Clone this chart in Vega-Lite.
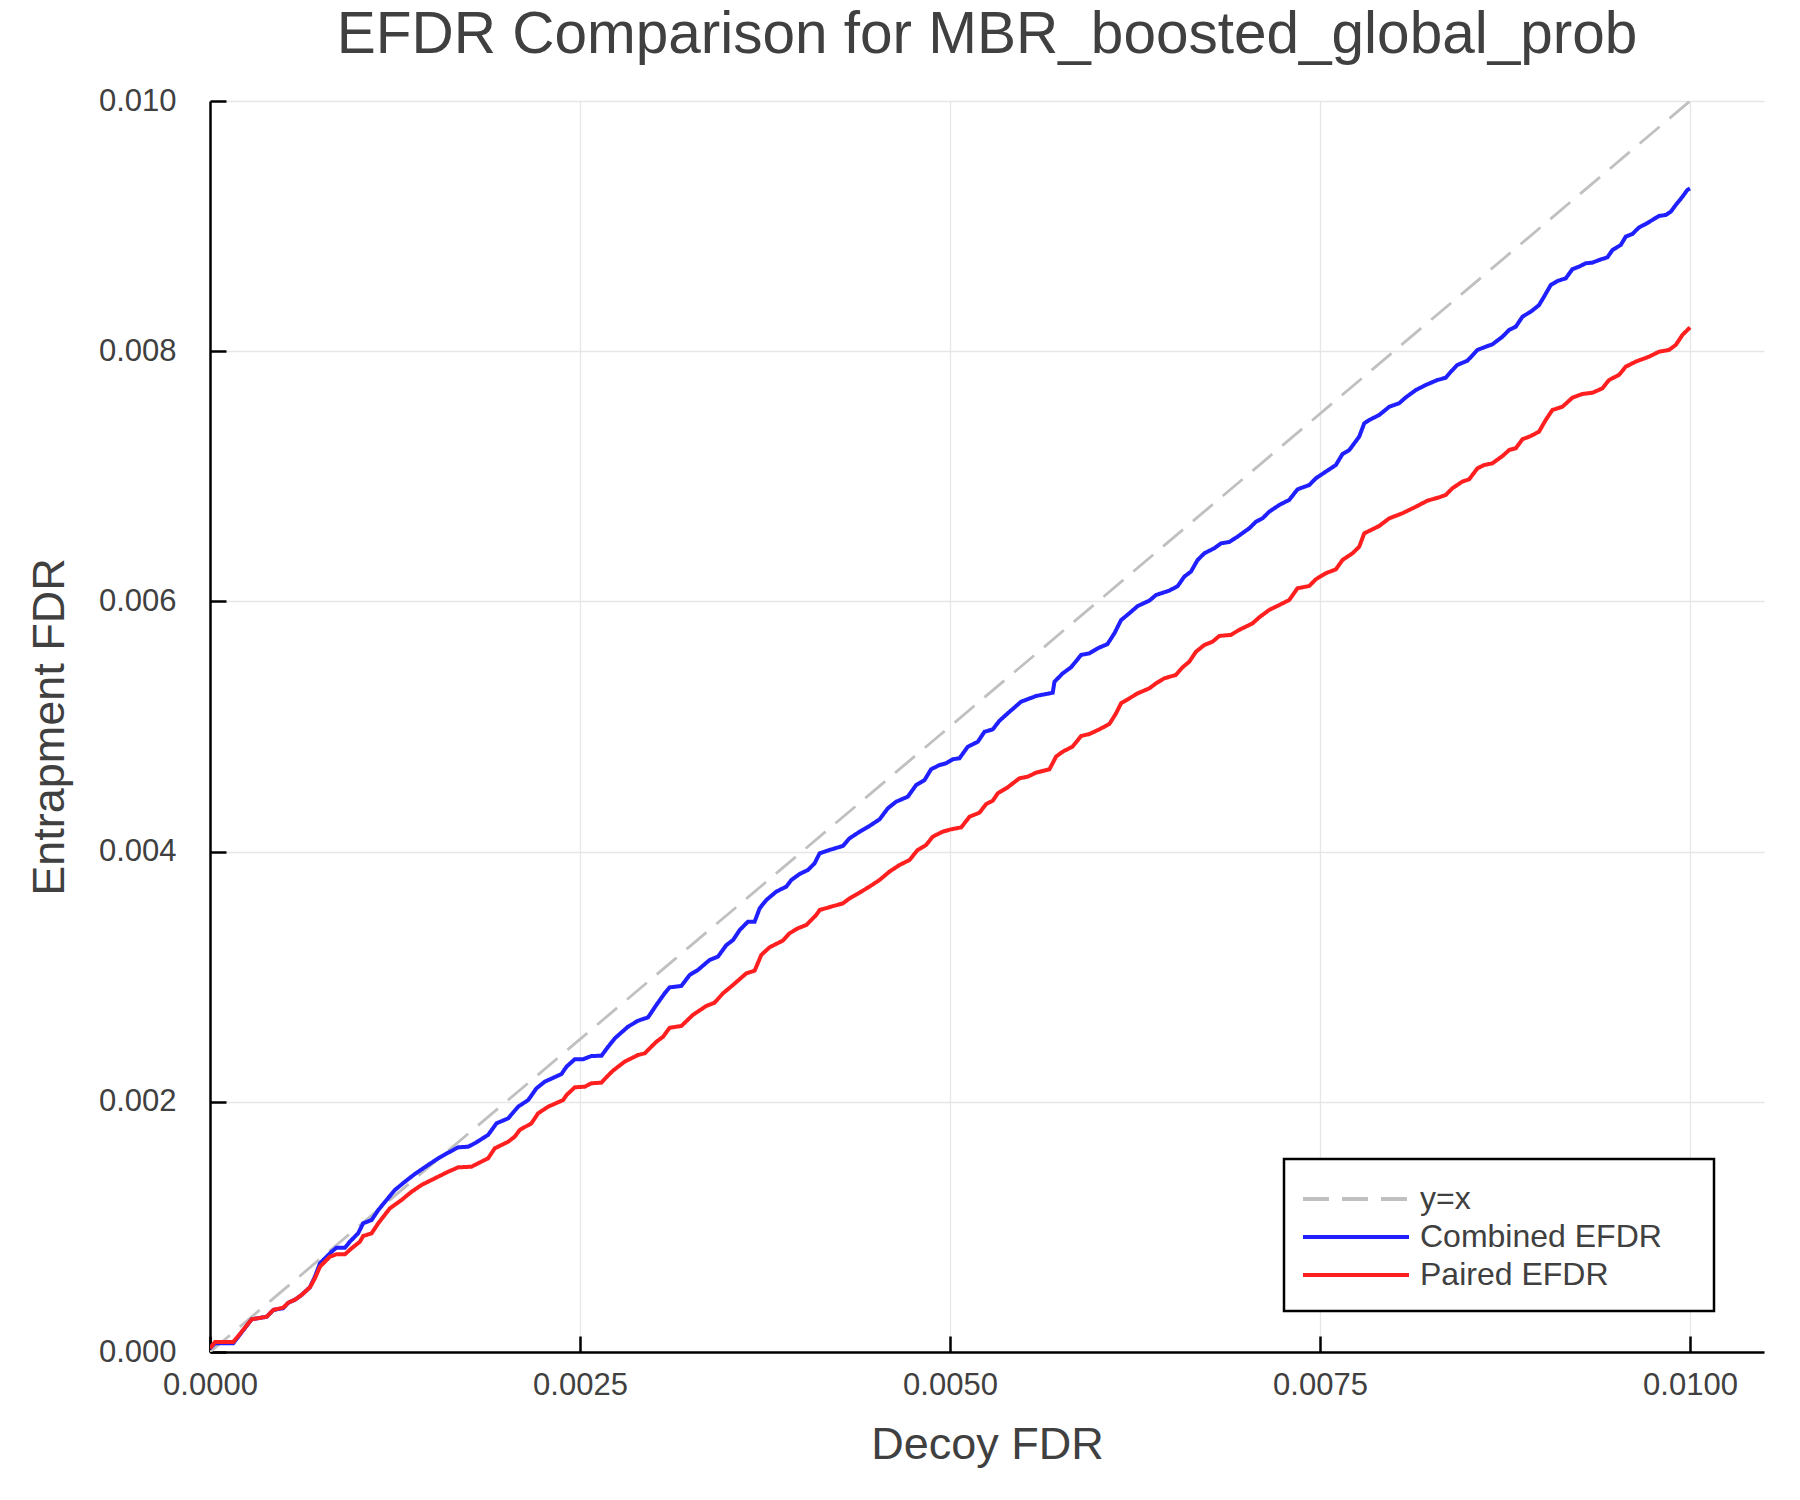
{
  "$schema": "https://vega.github.io/schema/vega-lite/v6.json",
  "width": 1554,
  "height": 1251,
  "autosize": {"type": "none"},
  "padding": {"left": 210, "top": 101, "right": 36, "bottom": 148},
  "background": "white",
  "title": {
    "text": "EFDR Comparison for MBR_boosted_global_prob",
    "font": "Liberation Sans", "fontSize": 58.5, "fontWeight": "normal",
    "color": "#404040", "anchor": "middle", "frame": "group", "offset": 20
  },
  "data": {
    "values": [
      {"series": "y=x", "x": 0, "y": 0},
      {"series": "y=x", "x": 0.01, "y": 0.01},
      {"series": "Combined EFDR", "x": 0, "y": 0.00003},
      {"series": "Combined EFDR", "x": 0.000034, "y": 0.00007},
      {"series": "Combined EFDR", "x": 0.000157, "y": 0.00007},
      {"series": "Combined EFDR", "x": 0.000191, "y": 0.000122},
      {"series": "Combined EFDR", "x": 0.000281, "y": 0.000261},
      {"series": "Combined EFDR", "x": 0.000383, "y": 0.000282},
      {"series": "Combined EFDR", "x": 0.000428, "y": 0.000336},
      {"series": "Combined EFDR", "x": 0.000495, "y": 0.00035},
      {"series": "Combined EFDR", "x": 0.000529, "y": 0.000394},
      {"series": "Combined EFDR", "x": 0.000574, "y": 0.000418},
      {"series": "Combined EFDR", "x": 0.000619, "y": 0.000456},
      {"series": "Combined EFDR", "x": 0.000675, "y": 0.000517},
      {"series": "Combined EFDR", "x": 0.000709, "y": 0.000602},
      {"series": "Combined EFDR", "x": 0.000743, "y": 0.000709},
      {"series": "Combined EFDR", "x": 0.000822, "y": 0.000802},
      {"series": "Combined EFDR", "x": 0.000855, "y": 0.000834},
      {"series": "Combined EFDR", "x": 0.000912, "y": 0.000834},
      {"series": "Combined EFDR", "x": 0.000945, "y": 0.000882},
      {"series": "Combined EFDR", "x": 0.001001, "y": 0.000949},
      {"series": "Combined EFDR", "x": 0.001035, "y": 0.001029},
      {"series": "Combined EFDR", "x": 0.001092, "y": 0.001055},
      {"series": "Combined EFDR", "x": 0.001137, "y": 0.001135},
      {"series": "Combined EFDR", "x": 0.001193, "y": 0.001215},
      {"series": "Combined EFDR", "x": 0.001249, "y": 0.001295},
      {"series": "Combined EFDR", "x": 0.001317, "y": 0.001361},
      {"series": "Combined EFDR", "x": 0.001384, "y": 0.001423},
      {"series": "Combined EFDR", "x": 0.001474, "y": 0.001495},
      {"series": "Combined EFDR", "x": 0.001542, "y": 0.001548},
      {"series": "Combined EFDR", "x": 0.001609, "y": 0.001593},
      {"series": "Combined EFDR", "x": 0.001677, "y": 0.001636},
      {"series": "Combined EFDR", "x": 0.001744, "y": 0.001641},
      {"series": "Combined EFDR", "x": 0.001789, "y": 0.001668},
      {"series": "Combined EFDR", "x": 0.001879, "y": 0.001735},
      {"series": "Combined EFDR", "x": 0.001936, "y": 0.001828},
      {"series": "Combined EFDR", "x": 0.002015, "y": 0.001868},
      {"series": "Combined EFDR", "x": 0.002082, "y": 0.001961},
      {"series": "Combined EFDR", "x": 0.00215, "y": 0.002014},
      {"series": "Combined EFDR", "x": 0.002206, "y": 0.002108},
      {"series": "Combined EFDR", "x": 0.002262, "y": 0.002161},
      {"series": "Combined EFDR", "x": 0.002375, "y": 0.002222},
      {"series": "Combined EFDR", "x": 0.002409, "y": 0.002281},
      {"series": "Combined EFDR", "x": 0.002465, "y": 0.00234},
      {"series": "Combined EFDR", "x": 0.002521, "y": 0.00234},
      {"series": "Combined EFDR", "x": 0.002577, "y": 0.002366},
      {"series": "Combined EFDR", "x": 0.002645, "y": 0.002368},
      {"series": "Combined EFDR", "x": 0.00269, "y": 0.00244},
      {"series": "Combined EFDR", "x": 0.002735, "y": 0.002507},
      {"series": "Combined EFDR", "x": 0.002824, "y": 0.0026},
      {"series": "Combined EFDR", "x": 0.002892, "y": 0.002648},
      {"series": "Combined EFDR", "x": 0.00296, "y": 0.002675},
      {"series": "Combined EFDR", "x": 0.003016, "y": 0.002774},
      {"series": "Combined EFDR", "x": 0.003072, "y": 0.002867},
      {"series": "Combined EFDR", "x": 0.003106, "y": 0.002915},
      {"series": "Combined EFDR", "x": 0.003185, "y": 0.002926},
      {"series": "Combined EFDR", "x": 0.003241, "y": 0.003014},
      {"series": "Combined EFDR", "x": 0.003297, "y": 0.003054},
      {"series": "Combined EFDR", "x": 0.003376, "y": 0.003134},
      {"series": "Combined EFDR", "x": 0.003432, "y": 0.00316},
      {"series": "Combined EFDR", "x": 0.003489, "y": 0.003253},
      {"series": "Combined EFDR", "x": 0.003534, "y": 0.003293},
      {"series": "Combined EFDR", "x": 0.003579, "y": 0.003373},
      {"series": "Combined EFDR", "x": 0.003635, "y": 0.00344},
      {"series": "Combined EFDR", "x": 0.00368, "y": 0.00344},
      {"series": "Combined EFDR", "x": 0.003714, "y": 0.003547},
      {"series": "Combined EFDR", "x": 0.003759, "y": 0.003613},
      {"series": "Combined EFDR", "x": 0.003826, "y": 0.00368},
      {"series": "Combined EFDR", "x": 0.003894, "y": 0.00372},
      {"series": "Combined EFDR", "x": 0.003928, "y": 0.003773},
      {"series": "Combined EFDR", "x": 0.003984, "y": 0.003821},
      {"series": "Combined EFDR", "x": 0.00404, "y": 0.003853},
      {"series": "Combined EFDR", "x": 0.004085, "y": 0.003906},
      {"series": "Combined EFDR", "x": 0.004119, "y": 0.003986},
      {"series": "Combined EFDR", "x": 0.004186, "y": 0.004013},
      {"series": "Combined EFDR", "x": 0.004276, "y": 0.004045},
      {"series": "Combined EFDR", "x": 0.004321, "y": 0.004106},
      {"series": "Combined EFDR", "x": 0.004389, "y": 0.004159},
      {"series": "Combined EFDR", "x": 0.004456, "y": 0.004205},
      {"series": "Combined EFDR", "x": 0.004524, "y": 0.004258},
      {"series": "Combined EFDR", "x": 0.00458, "y": 0.004346},
      {"series": "Combined EFDR", "x": 0.004636, "y": 0.004399},
      {"series": "Combined EFDR", "x": 0.004715, "y": 0.004439},
      {"series": "Combined EFDR", "x": 0.004771, "y": 0.004532},
      {"series": "Combined EFDR", "x": 0.004828, "y": 0.004572},
      {"series": "Combined EFDR", "x": 0.004872, "y": 0.004658},
      {"series": "Combined EFDR", "x": 0.004929, "y": 0.004692},
      {"series": "Combined EFDR", "x": 0.004974, "y": 0.004706},
      {"series": "Combined EFDR", "x": 0.005019, "y": 0.004738},
      {"series": "Combined EFDR", "x": 0.005064, "y": 0.004746},
      {"series": "Combined EFDR", "x": 0.00512, "y": 0.004838},
      {"series": "Combined EFDR", "x": 0.005188, "y": 0.004878},
      {"series": "Combined EFDR", "x": 0.005233, "y": 0.004958},
      {"series": "Combined EFDR", "x": 0.005289, "y": 0.004977},
      {"series": "Combined EFDR", "x": 0.005334, "y": 0.005046},
      {"series": "Combined EFDR", "x": 0.00539, "y": 0.005105},
      {"series": "Combined EFDR", "x": 0.00548, "y": 0.005198},
      {"series": "Combined EFDR", "x": 0.005582, "y": 0.005244},
      {"series": "Combined EFDR", "x": 0.005694, "y": 0.00527},
      {"series": "Combined EFDR", "x": 0.005706, "y": 0.005358},
      {"series": "Combined EFDR", "x": 0.005762, "y": 0.005425},
      {"series": "Combined EFDR", "x": 0.005818, "y": 0.005473},
      {"series": "Combined EFDR", "x": 0.005886, "y": 0.005572},
      {"series": "Combined EFDR", "x": 0.005942, "y": 0.005585},
      {"series": "Combined EFDR", "x": 0.005998, "y": 0.005625},
      {"series": "Combined EFDR", "x": 0.006064, "y": 0.005659},
      {"series": "Combined EFDR", "x": 0.006111, "y": 0.005745},
      {"series": "Combined EFDR", "x": 0.006156, "y": 0.005851},
      {"series": "Combined EFDR", "x": 0.006212, "y": 0.005905},
      {"series": "Combined EFDR", "x": 0.006268, "y": 0.005963},
      {"series": "Combined EFDR", "x": 0.006347, "y": 0.006006},
      {"series": "Combined EFDR", "x": 0.006392, "y": 0.006051},
      {"series": "Combined EFDR", "x": 0.006482, "y": 0.006086},
      {"series": "Combined EFDR", "x": 0.006539, "y": 0.006123},
      {"series": "Combined EFDR", "x": 0.006583, "y": 0.006198},
      {"series": "Combined EFDR", "x": 0.006628, "y": 0.006238},
      {"series": "Combined EFDR", "x": 0.006673, "y": 0.006331},
      {"series": "Combined EFDR", "x": 0.006719, "y": 0.006385},
      {"series": "Combined EFDR", "x": 0.006786, "y": 0.006425},
      {"series": "Combined EFDR", "x": 0.006831, "y": 0.006464},
      {"series": "Combined EFDR", "x": 0.006887, "y": 0.006475},
      {"series": "Combined EFDR", "x": 0.006942, "y": 0.006517},
      {"series": "Combined EFDR", "x": 0.007022, "y": 0.006584},
      {"series": "Combined EFDR", "x": 0.007067, "y": 0.006637},
      {"series": "Combined EFDR", "x": 0.007112, "y": 0.006664},
      {"series": "Combined EFDR", "x": 0.007157, "y": 0.006717},
      {"series": "Combined EFDR", "x": 0.007225, "y": 0.006771},
      {"series": "Combined EFDR", "x": 0.007292, "y": 0.006811},
      {"series": "Combined EFDR", "x": 0.007348, "y": 0.006896},
      {"series": "Combined EFDR", "x": 0.007427, "y": 0.00693},
      {"series": "Combined EFDR", "x": 0.007472, "y": 0.006984},
      {"series": "Combined EFDR", "x": 0.007539, "y": 0.007037},
      {"series": "Combined EFDR", "x": 0.007607, "y": 0.00709},
      {"series": "Combined EFDR", "x": 0.007652, "y": 0.007178},
      {"series": "Combined EFDR", "x": 0.007698, "y": 0.00721},
      {"series": "Combined EFDR", "x": 0.007765, "y": 0.007317},
      {"series": "Combined EFDR", "x": 0.007799, "y": 0.007424},
      {"series": "Combined EFDR", "x": 0.007833, "y": 0.00745},
      {"series": "Combined EFDR", "x": 0.0079, "y": 0.00749},
      {"series": "Combined EFDR", "x": 0.007968, "y": 0.007556},
      {"series": "Combined EFDR", "x": 0.008035, "y": 0.007584},
      {"series": "Combined EFDR", "x": 0.00808, "y": 0.007631},
      {"series": "Combined EFDR", "x": 0.008148, "y": 0.00769},
      {"series": "Combined EFDR", "x": 0.008215, "y": 0.00773},
      {"series": "Combined EFDR", "x": 0.008294, "y": 0.00777},
      {"series": "Combined EFDR", "x": 0.00835, "y": 0.007788},
      {"series": "Combined EFDR", "x": 0.008384, "y": 0.007836},
      {"series": "Combined EFDR", "x": 0.008428, "y": 0.00789},
      {"series": "Combined EFDR", "x": 0.008496, "y": 0.007924},
      {"series": "Combined EFDR", "x": 0.008564, "y": 0.00801},
      {"series": "Combined EFDR", "x": 0.00862, "y": 0.008036},
      {"series": "Combined EFDR", "x": 0.008665, "y": 0.008055},
      {"series": "Combined EFDR", "x": 0.008733, "y": 0.008116},
      {"series": "Combined EFDR", "x": 0.008778, "y": 0.00817},
      {"series": "Combined EFDR", "x": 0.008823, "y": 0.008196},
      {"series": "Combined EFDR", "x": 0.008868, "y": 0.008276},
      {"series": "Combined EFDR", "x": 0.008924, "y": 0.008316},
      {"series": "Combined EFDR", "x": 0.00898, "y": 0.008369},
      {"series": "Combined EFDR", "x": 0.009014, "y": 0.008436},
      {"series": "Combined EFDR", "x": 0.009059, "y": 0.008529},
      {"series": "Combined EFDR", "x": 0.009104, "y": 0.008561},
      {"series": "Combined EFDR", "x": 0.009161, "y": 0.008583},
      {"series": "Combined EFDR", "x": 0.009205, "y": 0.008655},
      {"series": "Combined EFDR", "x": 0.00925, "y": 0.008676},
      {"series": "Combined EFDR", "x": 0.009296, "y": 0.008703},
      {"series": "Combined EFDR", "x": 0.009341, "y": 0.008708},
      {"series": "Combined EFDR", "x": 0.009386, "y": 0.008729},
      {"series": "Combined EFDR", "x": 0.009442, "y": 0.00875},
      {"series": "Combined EFDR", "x": 0.009476, "y": 0.008809},
      {"series": "Combined EFDR", "x": 0.009532, "y": 0.008849},
      {"series": "Combined EFDR", "x": 0.009566, "y": 0.008916},
      {"series": "Combined EFDR", "x": 0.009611, "y": 0.008937},
      {"series": "Combined EFDR", "x": 0.009656, "y": 0.00899},
      {"series": "Combined EFDR", "x": 0.009701, "y": 0.009017},
      {"series": "Combined EFDR", "x": 0.009746, "y": 0.009049},
      {"series": "Combined EFDR", "x": 0.009791, "y": 0.009081},
      {"series": "Combined EFDR", "x": 0.009836, "y": 0.009089},
      {"series": "Combined EFDR", "x": 0.00987, "y": 0.009115},
      {"series": "Combined EFDR", "x": 0.009904, "y": 0.009169},
      {"series": "Combined EFDR", "x": 0.009949, "y": 0.009235},
      {"series": "Combined EFDR", "x": 0.009982, "y": 0.009289},
      {"series": "Combined EFDR", "x": 0.01, "y": 0.0093},
      {"series": "Paired EFDR", "x": 0, "y": 0.00003},
      {"series": "Paired EFDR", "x": 0.000034, "y": 0.00008},
      {"series": "Paired EFDR", "x": 0.000157, "y": 0.00008},
      {"series": "Paired EFDR", "x": 0.000191, "y": 0.000128},
      {"series": "Paired EFDR", "x": 0.000281, "y": 0.000261},
      {"series": "Paired EFDR", "x": 0.000383, "y": 0.000282},
      {"series": "Paired EFDR", "x": 0.000428, "y": 0.000336},
      {"series": "Paired EFDR", "x": 0.000495, "y": 0.000355},
      {"series": "Paired EFDR", "x": 0.000529, "y": 0.000394},
      {"series": "Paired EFDR", "x": 0.000574, "y": 0.000418},
      {"series": "Paired EFDR", "x": 0.000619, "y": 0.000456},
      {"series": "Paired EFDR", "x": 0.000675, "y": 0.000517},
      {"series": "Paired EFDR", "x": 0.000709, "y": 0.000589},
      {"series": "Paired EFDR", "x": 0.000743, "y": 0.000682},
      {"series": "Paired EFDR", "x": 0.00081, "y": 0.000762},
      {"series": "Paired EFDR", "x": 0.000855, "y": 0.000781},
      {"series": "Paired EFDR", "x": 0.000912, "y": 0.000781},
      {"series": "Paired EFDR", "x": 0.000957, "y": 0.000829},
      {"series": "Paired EFDR", "x": 0.001013, "y": 0.000882},
      {"series": "Paired EFDR", "x": 0.001035, "y": 0.000927},
      {"series": "Paired EFDR", "x": 0.001092, "y": 0.000949},
      {"series": "Paired EFDR", "x": 0.001137, "y": 0.001029},
      {"series": "Paired EFDR", "x": 0.001215, "y": 0.001148},
      {"series": "Paired EFDR", "x": 0.001294, "y": 0.001215},
      {"series": "Paired EFDR", "x": 0.001362, "y": 0.001281},
      {"series": "Paired EFDR", "x": 0.001429, "y": 0.001335},
      {"series": "Paired EFDR", "x": 0.001519, "y": 0.001388},
      {"series": "Paired EFDR", "x": 0.001609, "y": 0.001441},
      {"series": "Paired EFDR", "x": 0.001677, "y": 0.001476},
      {"series": "Paired EFDR", "x": 0.001766, "y": 0.001481},
      {"series": "Paired EFDR", "x": 0.001811, "y": 0.001508},
      {"series": "Paired EFDR", "x": 0.001879, "y": 0.001548},
      {"series": "Paired EFDR", "x": 0.001924, "y": 0.001628},
      {"series": "Paired EFDR", "x": 0.002015, "y": 0.001681},
      {"series": "Paired EFDR", "x": 0.002059, "y": 0.001721},
      {"series": "Paired EFDR", "x": 0.002093, "y": 0.001775},
      {"series": "Paired EFDR", "x": 0.002172, "y": 0.001828},
      {"series": "Paired EFDR", "x": 0.002217, "y": 0.001908},
      {"series": "Paired EFDR", "x": 0.002285, "y": 0.001961},
      {"series": "Paired EFDR", "x": 0.002386, "y": 0.002014},
      {"series": "Paired EFDR", "x": 0.002409, "y": 0.002054},
      {"series": "Paired EFDR", "x": 0.002465, "y": 0.002116},
      {"series": "Paired EFDR", "x": 0.002532, "y": 0.002121},
      {"series": "Paired EFDR", "x": 0.002577, "y": 0.002148},
      {"series": "Paired EFDR", "x": 0.002645, "y": 0.002153},
      {"series": "Paired EFDR", "x": 0.002678, "y": 0.002196},
      {"series": "Paired EFDR", "x": 0.002723, "y": 0.002249},
      {"series": "Paired EFDR", "x": 0.002802, "y": 0.002321},
      {"series": "Paired EFDR", "x": 0.002892, "y": 0.002374},
      {"series": "Paired EFDR", "x": 0.002937, "y": 0.002387},
      {"series": "Paired EFDR", "x": 0.002971, "y": 0.002427},
      {"series": "Paired EFDR", "x": 0.003016, "y": 0.00248},
      {"series": "Paired EFDR", "x": 0.003061, "y": 0.00252},
      {"series": "Paired EFDR", "x": 0.003106, "y": 0.002592},
      {"series": "Paired EFDR", "x": 0.003185, "y": 0.002606},
      {"series": "Paired EFDR", "x": 0.003262, "y": 0.002694},
      {"series": "Paired EFDR", "x": 0.003353, "y": 0.002766},
      {"series": "Paired EFDR", "x": 0.003409, "y": 0.002792},
      {"series": "Paired EFDR", "x": 0.003466, "y": 0.002867},
      {"series": "Paired EFDR", "x": 0.003534, "y": 0.002934},
      {"series": "Paired EFDR", "x": 0.003624, "y": 0.003027},
      {"series": "Paired EFDR", "x": 0.00368, "y": 0.003048},
      {"series": "Paired EFDR", "x": 0.003725, "y": 0.003174},
      {"series": "Paired EFDR", "x": 0.003781, "y": 0.003235},
      {"series": "Paired EFDR", "x": 0.00387, "y": 0.003288},
      {"series": "Paired EFDR", "x": 0.003916, "y": 0.003347},
      {"series": "Paired EFDR", "x": 0.003972, "y": 0.003387},
      {"series": "Paired EFDR", "x": 0.004029, "y": 0.003413},
      {"series": "Paired EFDR", "x": 0.004096, "y": 0.003493},
      {"series": "Paired EFDR", "x": 0.004119, "y": 0.003533},
      {"series": "Paired EFDR", "x": 0.004198, "y": 0.00356},
      {"series": "Paired EFDR", "x": 0.004276, "y": 0.003586},
      {"series": "Paired EFDR", "x": 0.004321, "y": 0.003626},
      {"series": "Paired EFDR", "x": 0.004389, "y": 0.003672},
      {"series": "Paired EFDR", "x": 0.004456, "y": 0.00372},
      {"series": "Paired EFDR", "x": 0.004524, "y": 0.003773},
      {"series": "Paired EFDR", "x": 0.004591, "y": 0.00384},
      {"series": "Paired EFDR", "x": 0.004659, "y": 0.003893},
      {"series": "Paired EFDR", "x": 0.004727, "y": 0.003933},
      {"series": "Paired EFDR", "x": 0.004781, "y": 0.004013},
      {"series": "Paired EFDR", "x": 0.004839, "y": 0.004053},
      {"series": "Paired EFDR", "x": 0.004883, "y": 0.004119},
      {"series": "Paired EFDR", "x": 0.00495, "y": 0.004159},
      {"series": "Paired EFDR", "x": 0.005007, "y": 0.004178},
      {"series": "Paired EFDR", "x": 0.005076, "y": 0.004194},
      {"series": "Paired EFDR", "x": 0.005132, "y": 0.004279},
      {"series": "Paired EFDR", "x": 0.005199, "y": 0.004311},
      {"series": "Paired EFDR", "x": 0.005244, "y": 0.00438},
      {"series": "Paired EFDR", "x": 0.005289, "y": 0.004407},
      {"series": "Paired EFDR", "x": 0.005323, "y": 0.004466},
      {"series": "Paired EFDR", "x": 0.00539, "y": 0.004514},
      {"series": "Paired EFDR", "x": 0.005469, "y": 0.004586},
      {"series": "Paired EFDR", "x": 0.005526, "y": 0.004599},
      {"series": "Paired EFDR", "x": 0.005581, "y": 0.004631},
      {"series": "Paired EFDR", "x": 0.005672, "y": 0.004658},
      {"series": "Paired EFDR", "x": 0.005717, "y": 0.00476},
      {"series": "Paired EFDR", "x": 0.005762, "y": 0.004799},
      {"series": "Paired EFDR", "x": 0.005828, "y": 0.004839},
      {"series": "Paired EFDR", "x": 0.005886, "y": 0.004924},
      {"series": "Paired EFDR", "x": 0.005942, "y": 0.00494},
      {"series": "Paired EFDR", "x": 0.006009, "y": 0.004977},
      {"series": "Paired EFDR", "x": 0.006077, "y": 0.00502},
      {"series": "Paired EFDR", "x": 0.006122, "y": 0.005105},
      {"series": "Paired EFDR", "x": 0.006156, "y": 0.005186},
      {"series": "Paired EFDR", "x": 0.006212, "y": 0.005225},
      {"series": "Paired EFDR", "x": 0.006268, "y": 0.005265},
      {"series": "Paired EFDR", "x": 0.006347, "y": 0.005305},
      {"series": "Paired EFDR", "x": 0.006392, "y": 0.005345},
      {"series": "Paired EFDR", "x": 0.006448, "y": 0.005385},
      {"series": "Paired EFDR", "x": 0.006526, "y": 0.005412},
      {"series": "Paired EFDR", "x": 0.006571, "y": 0.005473},
      {"series": "Paired EFDR", "x": 0.006617, "y": 0.005518},
      {"series": "Paired EFDR", "x": 0.006662, "y": 0.005598},
      {"series": "Paired EFDR", "x": 0.006719, "y": 0.005652},
      {"series": "Paired EFDR", "x": 0.006774, "y": 0.005678},
      {"series": "Paired EFDR", "x": 0.00682, "y": 0.005724},
      {"series": "Paired EFDR", "x": 0.006897, "y": 0.005732},
      {"series": "Paired EFDR", "x": 0.006954, "y": 0.005772},
      {"series": "Paired EFDR", "x": 0.007045, "y": 0.005825},
      {"series": "Paired EFDR", "x": 0.00709, "y": 0.005873},
      {"series": "Paired EFDR", "x": 0.007157, "y": 0.005932},
      {"series": "Paired EFDR", "x": 0.007225, "y": 0.005971},
      {"series": "Paired EFDR", "x": 0.007292, "y": 0.006011},
      {"series": "Paired EFDR", "x": 0.007348, "y": 0.006105},
      {"series": "Paired EFDR", "x": 0.007427, "y": 0.006123},
      {"series": "Paired EFDR", "x": 0.007472, "y": 0.006177},
      {"series": "Paired EFDR", "x": 0.007539, "y": 0.006225},
      {"series": "Paired EFDR", "x": 0.007607, "y": 0.006256},
      {"series": "Paired EFDR", "x": 0.007652, "y": 0.006331},
      {"series": "Paired EFDR", "x": 0.00772, "y": 0.006385},
      {"series": "Paired EFDR", "x": 0.007765, "y": 0.006437},
      {"series": "Paired EFDR", "x": 0.007799, "y": 0.006544},
      {"series": "Paired EFDR", "x": 0.007854, "y": 0.006576},
      {"series": "Paired EFDR", "x": 0.0079, "y": 0.006603},
      {"series": "Paired EFDR", "x": 0.007968, "y": 0.006664},
      {"series": "Paired EFDR", "x": 0.008056, "y": 0.006704},
      {"series": "Paired EFDR", "x": 0.008148, "y": 0.006757},
      {"series": "Paired EFDR", "x": 0.008226, "y": 0.006805},
      {"series": "Paired EFDR", "x": 0.008305, "y": 0.006832},
      {"series": "Paired EFDR", "x": 0.00835, "y": 0.006851},
      {"series": "Paired EFDR", "x": 0.008394, "y": 0.006904},
      {"series": "Paired EFDR", "x": 0.008461, "y": 0.006957},
      {"series": "Paired EFDR", "x": 0.008508, "y": 0.006976},
      {"series": "Paired EFDR", "x": 0.008564, "y": 0.007064},
      {"series": "Paired EFDR", "x": 0.008609, "y": 0.00709},
      {"series": "Paired EFDR", "x": 0.008665, "y": 0.007104},
      {"series": "Paired EFDR", "x": 0.008733, "y": 0.007162},
      {"series": "Paired EFDR", "x": 0.008778, "y": 0.00721},
      {"series": "Paired EFDR", "x": 0.008823, "y": 0.007224},
      {"series": "Paired EFDR", "x": 0.008868, "y": 0.007296},
      {"series": "Paired EFDR", "x": 0.008924, "y": 0.007322},
      {"series": "Paired EFDR", "x": 0.00898, "y": 0.007357},
      {"series": "Paired EFDR", "x": 0.009025, "y": 0.00745},
      {"series": "Paired EFDR", "x": 0.00907, "y": 0.00753},
      {"series": "Paired EFDR", "x": 0.009138, "y": 0.007556},
      {"series": "Paired EFDR", "x": 0.009205, "y": 0.007628},
      {"series": "Paired EFDR", "x": 0.009272, "y": 0.007658},
      {"series": "Paired EFDR", "x": 0.009341, "y": 0.007668},
      {"series": "Paired EFDR", "x": 0.009408, "y": 0.007703},
      {"series": "Paired EFDR", "x": 0.009453, "y": 0.00777},
      {"series": "Paired EFDR", "x": 0.00952, "y": 0.00781},
      {"series": "Paired EFDR", "x": 0.009566, "y": 0.007876},
      {"series": "Paired EFDR", "x": 0.009632, "y": 0.007916},
      {"series": "Paired EFDR", "x": 0.009723, "y": 0.007956},
      {"series": "Paired EFDR", "x": 0.009791, "y": 0.007996},
      {"series": "Paired EFDR", "x": 0.009858, "y": 0.00801},
      {"series": "Paired EFDR", "x": 0.009904, "y": 0.00805},
      {"series": "Paired EFDR", "x": 0.009949, "y": 0.00813},
      {"series": "Paired EFDR", "x": 0.01, "y": 0.00819}
    ]
  },
  "encoding": {
    "x": {
      "field": "x", "type": "quantitative", "title": "Decoy FDR",
      "scale": {"domain": [0, 0.0105], "nice": false, "zero": false},
      "axis": {"values": [0, 0.0025, 0.005, 0.0075, 0.01], "format": ".4f", "labelFlush": false}
    },
    "y": {
      "field": "y", "type": "quantitative", "title": "Entrapment FDR",
      "scale": {"domain": [0, 0.01], "nice": false, "zero": false},
      "axis": {"values": [0, 0.002, 0.004, 0.006, 0.008, 0.01], "format": ".3f", "labelFlush": false}
    },
    "color": {
      "field": "series", "type": "nominal",
      "scale": {"domain": ["y=x", "Combined EFDR", "Paired EFDR"], "range": ["#c0c0c0", "#1f1fff", "#ff1f1f"]},
      "legend": {"title": "\u2002", "titleOrient": "right", "titlePadding": 32}
    },
    "strokeDash": {
      "field": "series", "type": "nominal",
      "scale": {"domain": ["y=x", "Combined EFDR", "Paired EFDR"], "range": [[26, 13], [1, 0], [1, 0]]},
      "legend": {"title": "\u2002", "titleOrient": "right", "titlePadding": 32}
    }
  },
  "layer": [
    {
      "transform": [{"filter": "datum.series === 'y=x'"}],
      "mark": {"type": "line", "strokeWidth": 2.8, "clip": true}
    },
    {
      "transform": [{"filter": "datum.series !== 'y=x'"}],
      "mark": {"type": "line", "strokeWidth": 4, "clip": true}
    }
  ],
  "config": {
    "view": {"stroke": null},
    "axis": {
      "domainColor": "black", "domainWidth": 2.5,
      "tickColor": "black", "tickWidth": 2.5, "tickSize": -16,
      "labelFont": "Liberation Sans", "labelFontSize": 31, "labelColor": "#404040",
      "titleFont": "Liberation Sans", "titleFontSize": 45, "titleFontWeight": "normal", "titleColor": "#404040",
      "gridColor": "#e6e6e6", "gridWidth": 1.3
    },
    "axisX": {"labelPadding": 34, "titlePadding": 22},
    "axisY": {"labelPadding": 50, "titlePadding": 26},
    "legend": {
      "orient": "none", "legendX": 1074, "legendY": 1058,
      "symbolType": "M-3,0H3", "symbolSize": 1250, "symbolOffset": 32, "labelOffset": 44,
      "symbolStrokeWidth": 4,
      "labelFont": "Liberation Sans", "labelFontSize": 32, "labelColor": "#404040", "labelLimit": 0,
      "titleFont": "Liberation Sans", "titleFontSize": 32,
      "padding": 20, "rowPadding": 2,
      "strokeColor": "black", "strokeWidth": 2.5, "fillColor": "white"
    }
  }
}
